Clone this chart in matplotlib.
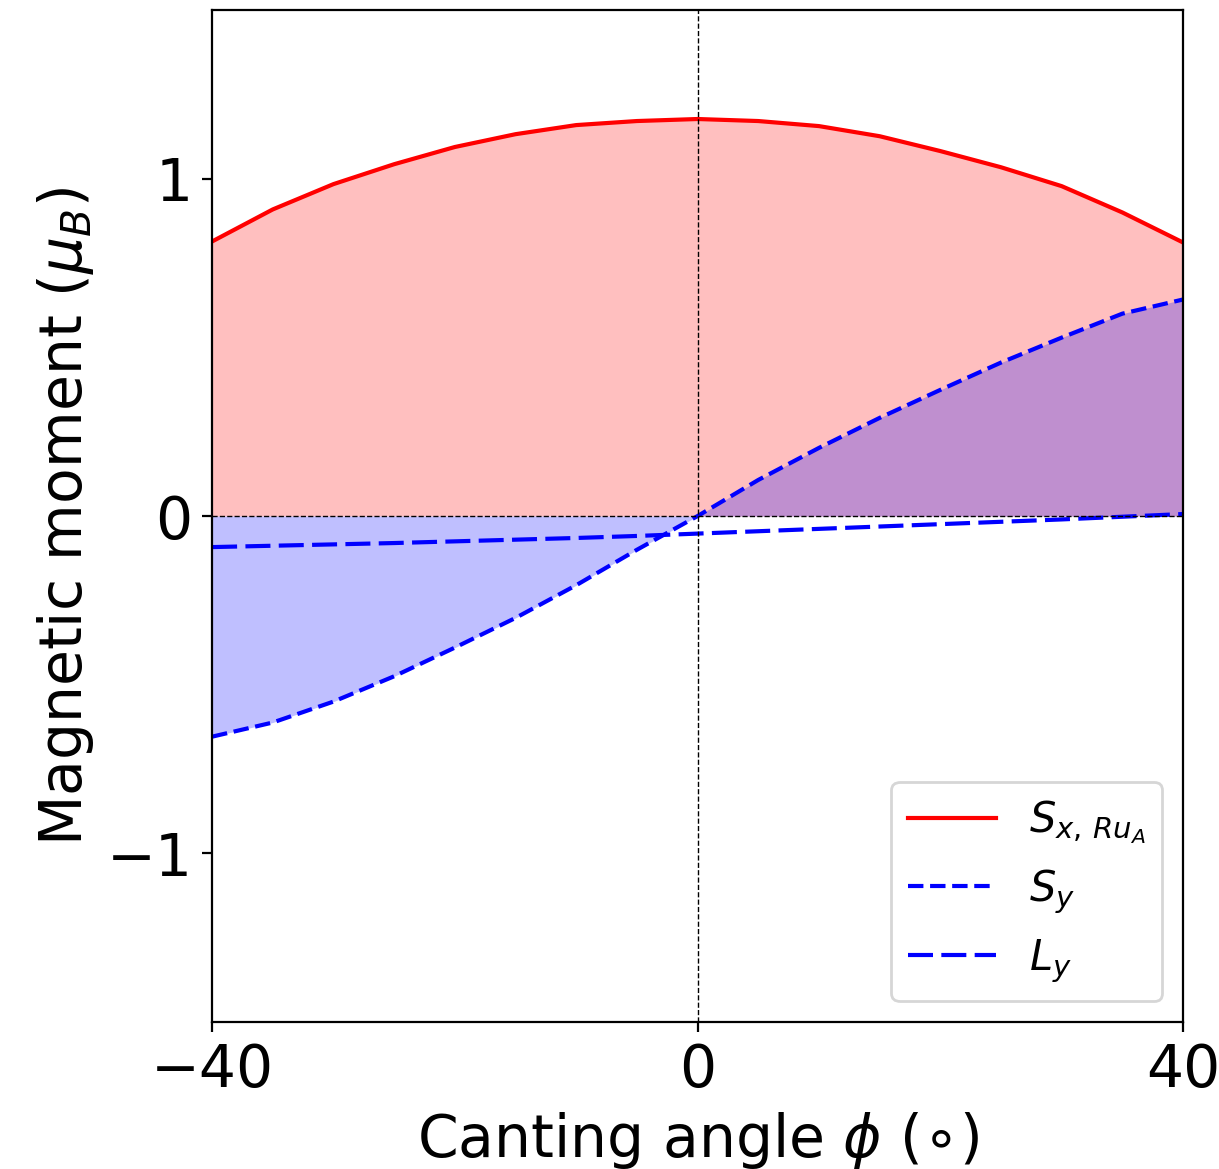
import matplotlib
matplotlib.use("Agg")

import numpy as np
import matplotlib.pyplot as plt

# Углы скоса (градусы) и моменты (mu_B)
phi = [-40, -35, -30, -25, -20, -15, -10, -5, 0, 5, 10, 15, 20, 25, 30, 35, 40]
s_x = [0.814, 0.909, 0.984, 1.043, 1.094, 1.132, 1.159, 1.171, 1.177,
       1.171, 1.156, 1.126, 1.082, 1.034, 0.978, 0.900, 0.811]
s_y = [-0.654, -0.612, -0.550, -0.475, -0.390, -0.302, -0.205, -0.100, 0.0,
       0.107, 0.202, 0.291, 0.374, 0.455, 0.529, 0.600, 0.642]
l_y = [-0.092, -0.088, -0.084, -0.080, -0.075, -0.070, -0.065, -0.059, -0.052,
       -0.045, -0.038, -0.031, -0.024, -0.017, -0.010, -0.002, 0.006]

fig = plt.figure(figsize=(6.095, 5.845), dpi=200)
ax = fig.add_axes([0.174, 0.1257, 0.7965, 0.8657])

ax.fill_between(phi, 0, s_x, color='red', alpha=0.25, linewidth=0)
ax.fill_between(phi, 0, s_y, color='blue', alpha=0.25, linewidth=0)

ax.plot(phi, s_x, '-', color='red', lw=1.5, label=r'$S_{x,\,Ru_A}$')
ax.plot(phi, s_y, '--', color='blue', lw=1.5, label=r'$S_y$')
ax.plot(phi, l_y, color='blue', lw=1.5, dashes=(6, 2), label=r'$L_y$')

ax.axhline(0, color='black', lw=0.5, ls='--')
ax.axvline(0, color='black', lw=0.5, ls='--')

ax.set_xlim(-40, 40)
ax.set_ylim(-1.5, 1.5)
ax.set_xticks([-40, 0, 40])
ax.set_yticks([-1, 0, 1])
ax.tick_params(labelsize=21)

ax.set_xlabel(r'Canting angle $\phi$ ($\circ$)', fontsize=21)
ax.set_ylabel(r'Magnetic moment ($\mu_B$)', fontsize=21)

ax.legend(loc='lower right', fontsize=15, handlelength=2.1)

fig.savefig('out.png', dpi=200)
